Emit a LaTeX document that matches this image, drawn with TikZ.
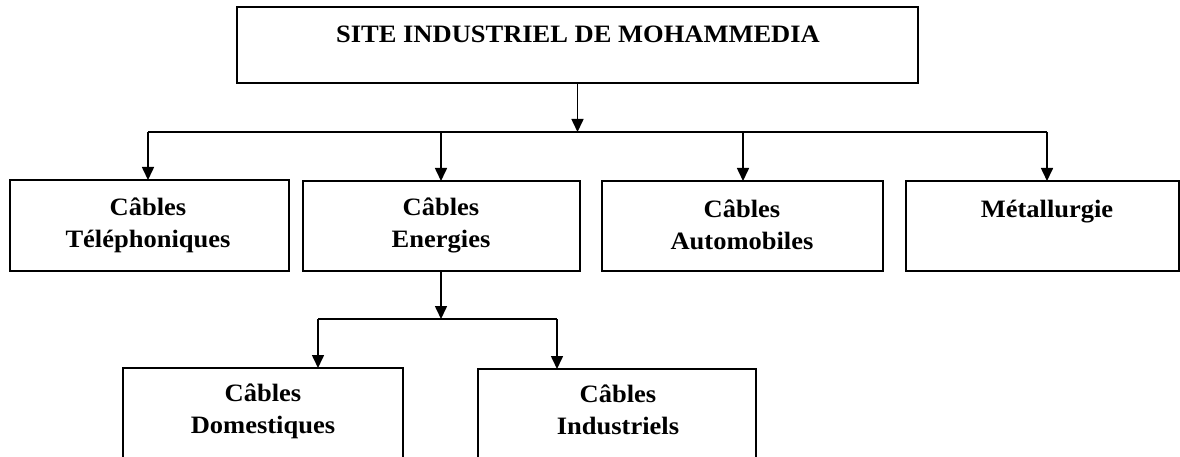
\documentclass[tikz,border=0pt]{standalone}
\usepackage{fontspec}
\setmainfont{Liberation Serif}[FakeStretch=1.06]
\usetikzlibrary{arrows.meta}
\begin{document}
\begin{tikzpicture}[x=1pt,y=-1pt,
  box/.style={draw, line width=1.6pt, rectangle, inner sep=0pt, outer sep=0pt},
  lbl/.style={align=center, inner sep=0pt, anchor=north, font=\fontsize{25}{32}\selectfont\bfseries},
  conn/.style={line width=1.6pt},
  arr/.style={conn, -{Triangle[length=13pt,width=12pt]}}]
\useasboundingbox (0,0) rectangle (1180,457);
\clip (0,0) rectangle (1180,457);
\newcommand{\lstrut}{\rule{0pt}{20pt}}
% boxes
\node[box, minimum width=681, minimum height=76] (site) at (577.5,45) {};
\node[box, minimum width=279, minimum height=91] (tel) at (149.5,225.5) {};
\node[box, minimum width=277, minimum height=90] (ener) at (441.5,226) {};
\node[box, minimum width=281, minimum height=90] (auto) at (742.5,226) {};
\node[box, minimum width=273, minimum height=90] (met) at (1042.5,226) {};
\node[box, minimum width=280, minimum height=104] (dom) at (263,420) {};
\node[box, minimum width=278, minimum height=104] (ind) at (617,421) {};
% labels (north = first baseline - 20)
\node[lbl] (sitet) at (578,22) {\lstrut SITE INDUSTRIEL DE MOHAMMEDIA};
\node[lbl] (telt) at (148,195) {\lstrut Câbles\\Téléphoniques};
\node[lbl] (enert) at (441,195) {\lstrut Câbles\\Energies};
\node[lbl] (autot) at (742,197) {\lstrut Câbles\\Automobiles};
\node[lbl] (mett) at (1047,197) {\lstrut Métallurgie};
\node[lbl] (domt) at (263,381) {\lstrut Câbles\\Domestiques};
\node[lbl] (indt) at (618,382) {\lstrut Câbles\\Industriels};
% bus coordinates
\coordinate (busL) at (148,132);
\coordinate (busR) at (1047,132);
\coordinate (busE) at (441,132);
\coordinate (busA) at (743,132);
\coordinate (bus2L) at (318,319);
\coordinate (bus2R) at (557,319);
% connectors
\draw[arr] (site.south) -- (site.south |- busL);
\draw[conn] (busL) -- (busR);
\draw[arr] (busL) -- (busL |- tel.north);
\draw[arr] (busE) -- (busE |- ener.north);
\draw[arr] (busA) -- (busA |- auto.north);
\draw[arr] (busR) -- (busR |- met.north);
\draw[arr] (ener.south -| busE) -- (busE |- bus2L);
\draw[conn] (bus2L) -- (bus2R);
\draw[arr] (bus2L) -- (bus2L |- dom.north);
\draw[arr] (bus2R) -- (bus2R |- ind.north);
\end{tikzpicture}
\end{document}
